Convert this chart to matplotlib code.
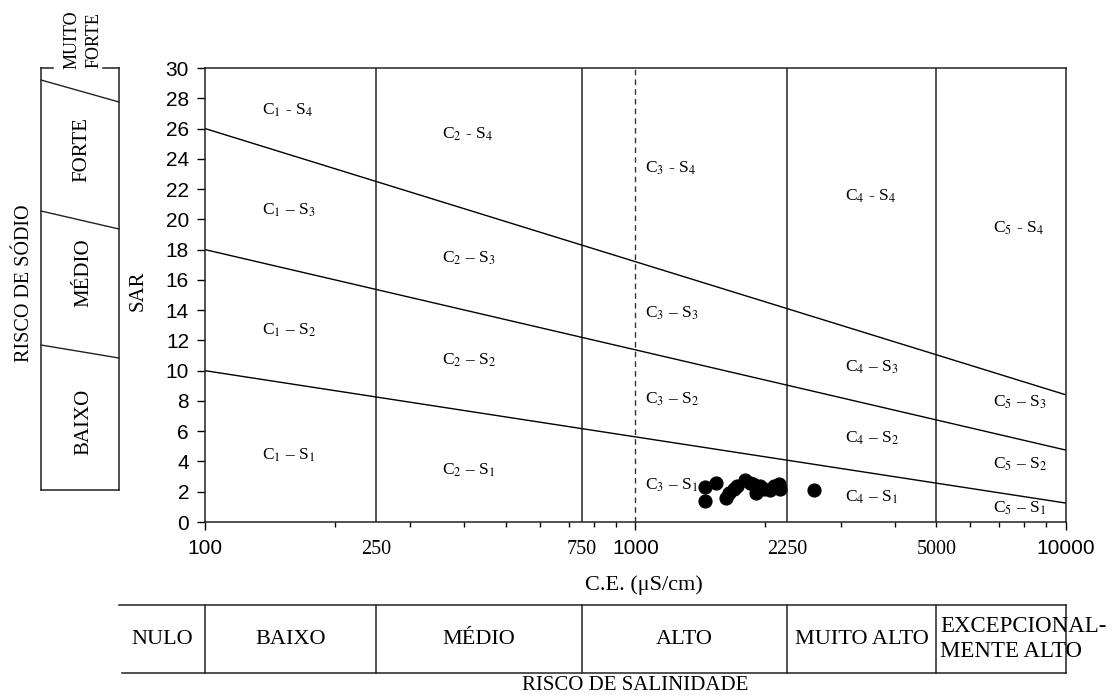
import numpy as np
import matplotlib
matplotlib.use("Agg")
import matplotlib.pyplot as plt
from matplotlib.lines import Line2D

plt.rcParams["font.family"] = ["Liberation Serif", "DejaVu Serif"]
plt.rcParams["mathtext.fontset"] = "stix"

# Water samples: electrical conductivity (uS/cm) and sodium adsorption ratio
ce_samples = [1450, 1450, 1540, 1620, 1650, 1690, 1720, 1800, 1840, 1870,
              1900, 1950, 1990, 2050, 2100, 2150, 2170, 2600]
sar_samples = [2.3, 1.4, 2.6, 1.6, 1.9, 2.2, 2.4, 2.8, 2.6, 2.5,
               1.9, 2.4, 2.2, 2.1, 2.4, 2.5, 2.2, 2.1]

# Sodium-hazard boundaries (SAR at CE = 100 and CE = 10000)
boundary_ce = [100, 10000]
boundary_s1_s2 = [10.0, 1.25]
boundary_s2_s3 = [18.0, 4.75]
boundary_s3_s4 = [26.0, 8.4]

# Salinity classes
salinity_limits = [100, 250, 750, 2250, 5000, 10000]
salinity_names = ["BAIXO", "MÉDIO", "ALTO", "MUITO ALTO"]
sal_extra_ticks = [250, 750, 2250, 5000]
major_ticks = [100, 1000, 10000]
sar_ticks = list(range(0, 31, 2))

# Zone labels: (text, CE, SAR) anchor of each label
zone_labels = [
    (r"C$_1$ - S$_4$", 136, 27.2), (r"C$_1$ – S$_3$", 136, 20.6),
    (r"C$_1$ – S$_2$", 136, 12.7), (r"C$_1$ – S$_1$", 136, 4.4),
    (r"C$_2$ - S$_4$", 355, 25.6), (r"C$_2$ – S$_3$", 355, 17.4),
    (r"C$_2$ – S$_2$", 355, 10.7), (r"C$_2$ – S$_1$", 355, 3.4),
    (r"C$_3$ - S$_4$", 1052, 23.4), (r"C$_3$ – S$_3$", 1052, 13.8),
    (r"C$_3$ – S$_2$", 1052, 8.1), (r"C$_3$ – S$_1$", 1052, 2.45),
    (r"C$_4$ - S$_4$", 3066, 21.5), (r"C$_4$ – S$_3$", 3066, 10.2),
    (r"C$_4$ – S$_2$", 3066, 5.5), (r"C$_4$ – S$_1$", 3066, 1.6),
    (r"C$_5$ - S$_4$", 6770, 19.4), (r"C$_5$ – S$_3$", 6770, 7.9),
    (r"C$_5$ – S$_2$", 6770, 3.8), (r"C$_5$ – S$_1$", 6770, 0.9),
]

W, H = 1119, 695
fig = plt.figure(figsize=(W / 100, H / 100), dpi=100)
ax = fig.add_axes([205 / W, (H - 522) / H, 861 / W, 454 / H])
ax.set_facecolor("none")

ax.set_xscale("log")
ax.set_xlim(100, 10000)
ax.set_ylim(0, 30)

# boundaries between sodium classes
for sar_line in (boundary_s1_s2, boundary_s2_s3, boundary_s3_s4):
    ax.plot(boundary_ce, sar_line, color="black", lw=1.0, zorder=2)

# salinity class limits
for x in salinity_limits[1:-1]:
    ax.axvline(x, color="#444444", lw=1.3, zorder=1)
ax.axvline(1000, color="#333333", lw=1.0, ls=(0, (4, 3)), zorder=1)

ax.scatter(ce_samples, sar_samples, s=85, color="black", zorder=3)

for txt, x, y in zone_labels:
    ax.text(x, y, txt, fontsize=12.5, ha="left", va="center")

# axes styling
for sp in ax.spines.values():
    sp.set_color("#222222")
    sp.set_linewidth(1.1)
ax.set_yticks(sar_ticks)
ax.set_yticklabels([str(v) for v in sar_ticks],
                   fontfamily="Liberation Sans", fontsize=15)
ax.tick_params(axis="y", direction="out", length=5.5, width=1, pad=6)
ax.set_xticks(major_ticks)
ax.set_xticklabels([str(v) for v in major_ticks],
                   fontfamily="Liberation Sans", fontsize=15)
ax.xaxis.set_minor_locator(matplotlib.ticker.LogLocator(base=10, subs=np.arange(2, 10)))
ax.xaxis.set_minor_formatter(matplotlib.ticker.NullFormatter())
ax.tick_params(axis="x", which="major", direction="out", length=6, width=1, pad=6)
ax.tick_params(axis="x", which="minor", direction="out", length=3.5, width=1)

xt = ax.get_xaxis_transform()
lab_y = -(550 - 522) / 454
for v in sal_extra_ticks:
    ax.text(v, lab_y, str(v), transform=xt, ha="center", va="center", fontsize=14.5)

ax.set_xlabel("C.E. (μS/cm)", fontsize=16)
ax.xaxis.set_label_coords(0.51, -(575 - 522) / 454)
ax.set_ylabel("SAR", fontsize=15)
ax.yaxis.set_label_coords(-(205 - 148) / 861, 0.509)

# salinity hazard table below the chart
def yfrac(py):
    return (522 - py) / 454

t_top, t_bot, t_mid = yfrac(605), yfrac(673), yfrac(640)
kw = dict(transform=xt, clip_on=False, color="#222222", lw=1.1)
ax.add_line(Line2D([63, 10000], [t_top, t_top], **kw))
ax.add_line(Line2D([64, 10000], [t_bot, t_bot], **kw))
for x in salinity_limits:
    ax.add_line(Line2D([x, x], [t_top, t_bot], **kw))
ax.text(np.sqrt(63 * 100), t_mid, "NULO", transform=xt, ha="center", va="center", fontsize=16)
for lo, hi, name in zip(salinity_limits[:-2], salinity_limits[1:-1], salinity_names):
    ax.text(np.sqrt(lo * hi), t_mid, name, transform=xt, ha="center", va="center", fontsize=16)
ax.text(5100, yfrac(639), "EXCEPCIONAL-\nMENTE ALTO", transform=xt, ha="left", va="center",
        fontsize=16.5, linespacing=1.2)
ax.text(1000, yfrac(685), "RISCO DE SALINIDADE", transform=xt, ha="center", va="center",
        fontsize=15)

# sodium hazard column on the left
ov = fig.add_axes([0, 0, 1, 1])
ov.set_xlim(0, W)
ov.set_ylim(H, 0)
ov.axis("off")
lk = dict(color="#222222", lw=1.1)
ov.plot([41, 41], [68, 490], **lk)
ov.plot([119, 119], [68, 490], **lk)
ov.plot([41, 119], [490, 490], **lk)
ov.plot([41, 53], [68, 68], **lk)
ov.plot([103, 119], [68, 68], **lk)
for (ya, yb) in [(80, 102), (211, 229), (345, 358)]:
    ov.plot([41, 119], [ya, yb], color="#222222", lw=1.0)
ov.text(72, 40, "MUITO", rotation=90, ha="center", va="center", fontsize=13)
ov.text(94, 40, "FORTE", rotation=90, ha="center", va="center", fontsize=13)
ov.text(82, 150, "FORTE", rotation=90, ha="center", va="center", fontsize=15)
ov.text(84, 273, "MÉDIO", rotation=90, ha="center", va="center", fontsize=15)
ov.text(84, 422, "BAIXO", rotation=90, ha="center", va="center", fontsize=15)
ov.text(25, 283, "RISCO DE SÓDIO", rotation=90, ha="center", va="center", fontsize=14.5)

fig.savefig("out.png", dpi=100)
